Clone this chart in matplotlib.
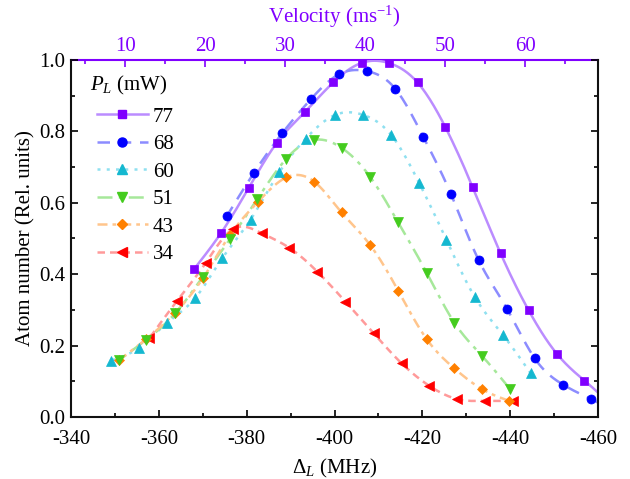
import numpy as np
import matplotlib
matplotlib.use("Agg")
import matplotlib.pyplot as plt
from matplotlib.lines import Line2D
from matplotlib.ticker import MultipleLocator, FormatStrFormatter

plt.rcParams["font.family"] = ["Liberation Serif", "DejaVu Serif"]
plt.rcParams["mathtext.fontset"] = "custom"
plt.rcParams["mathtext.rm"] = "Liberation Serif"
plt.rcParams["mathtext.it"] = "Liberation Serif:italic"
plt.rcParams["font.size"] = 15
plt.rcParams["axes.unicode_minus"] = False

# detuning (MHz) and atom number for each laser power
det_77 = [-368.0, -374.2, -380.5, -386.8, -393.3, -399.7, -406.2, -412.5,
          -418.9, -425.2, -431.5, -437.8, -444.2, -450.7, -456.9]
n_77 = [0.414, 0.516, 0.642, 0.767, 0.855, 0.937, 0.992, 0.991,
        0.937, 0.813, 0.643, 0.459, 0.299, 0.176, 0.102]

det_68 = [-375.5, -381.6, -388.1, -394.6, -401.0, -407.3, -413.8,
          -420.2, -426.5, -432.8, -439.3, -445.6, -452.0, -458.4]
n_68 = [0.563, 0.683, 0.795, 0.890, 0.960, 0.969, 0.920,
        0.785, 0.625, 0.440, 0.303, 0.164, 0.091, 0.050]

det_60 = [-349.0, -355.5, -361.9, -368.2, -374.4, -380.9, -387.4, -393.4,
          -400.1, -406.6, -412.9, -419.3, -425.5, -431.9, -438.4, -444.7]
n_60 = [0.158, 0.194, 0.264, 0.332, 0.444, 0.553, 0.685, 0.779,
        0.846, 0.846, 0.790, 0.655, 0.496, 0.337, 0.229, 0.122]

det_51 = [-351.0, -357.1, -363.7, -370.0, -376.2, -382.4, -389.0, -395.3,
          -401.6, -408.1, -414.5, -421.0, -427.3, -433.6, -440.0]
n_51 = [0.160, 0.216, 0.290, 0.392, 0.498, 0.610, 0.723, 0.776,
        0.754, 0.673, 0.545, 0.404, 0.264, 0.171, 0.078]

det_43 = [-351.0, -357.1, -363.7, -370.1, -376.2, -382.6, -389.0, -395.4,
          -401.6, -408.1, -414.5, -421.0, -427.3, -433.6, -439.8]
n_43 = [0.160, 0.218, 0.292, 0.390, 0.510, 0.603, 0.671, 0.659,
        0.573, 0.482, 0.354, 0.218, 0.136, 0.078, 0.045]

det_34 = [-357.8, -364.2, -370.7, -376.8, -383.4, -389.7, -396.1,
          -402.5, -408.9, -415.3, -421.5, -428.0, -434.3, -440.7]
n_34 = [0.220, 0.326, 0.432, 0.526, 0.515, 0.474, 0.407,
        0.323, 0.235, 0.150, 0.088, 0.050, 0.045, 0.045]

powers = ["77", "68", "60", "51", "43", "34"]
xticks = [-340, -360, -380, -400, -420, -440, -460]
vticks = [10, 20, 30, 40, 50, 60]


def smooth(x, y, lo=None, n=400):
    # natural cubic spline through the points (x given in decreasing order)
    x = np.asarray(x, float)[::-1]
    y = np.asarray(y, float)[::-1]
    h = np.diff(x)
    m = len(x)
    A = np.zeros((m, m))
    r = np.zeros(m)
    A[0, 0] = A[-1, -1] = 1
    for i in range(1, m - 1):
        A[i, i - 1] = h[i - 1]
        A[i, i] = 2 * (h[i - 1] + h[i])
        A[i, i + 1] = h[i]
        r[i] = 6 * ((y[i + 1] - y[i]) / h[i] - (y[i] - y[i - 1]) / h[i - 1])
    M = np.linalg.solve(A, r)
    xs = np.linspace(x[0] if lo is None else lo, x[-1], n)
    k = np.clip(np.searchsorted(x, xs) - 1, 0, m - 2)
    t0 = xs - x[k]
    t1 = x[k + 1] - xs
    hk = h[k]
    ys = (M[k] * t1**3 / (6 * hk) + M[k + 1] * t0**3 / (6 * hk)
          + (y[k] / hk - M[k] * hk / 6) * t1
          + (y[k + 1] / hk - M[k + 1] * hk / 6) * t0)
    return xs, ys


purple = "#8000ff"
styles = [
    dict(mc=purple, lc="#bb8cff", ls="-", m="s", ms=6.2),
    dict(mc="#0000ff", lc="#8c8cff", ls=(0, (5, 3.5)), m="o", ms=6.5),
    dict(mc="#14b8d0", lc="#8fe0f0", ls=(0, (1.2, 2.5)), m="^", ms=7.5),
    dict(mc="#44cc1e", lc="#a6e89a", ls=(0, (6, 2.5, 1.5, 2.5)), m="v", ms=7.5),
    dict(mc="#ff8000", lc="#ffc58c", ls=(0, (4, 2, 1.5, 2)), m="D", ms=5.3),
    dict(mc="#ff0000", lc="#ff9a9a", ls=(0, (3, 2)), m="<", ms=7.5),
]
series = [(det_77, n_77), (det_68, n_68), (det_60, n_60),
          (det_51, n_51), (det_43, n_43), (det_34, n_34)]

fig = plt.figure(figsize=(6.3, 4.79), dpi=100)
ax = fig.add_axes([71 / 630, 1 - 417 / 479, 527 / 630, 357 / 479])

handles = []
for i, ((d, v), st) in enumerate(zip(series, styles)):
    lo = -460 if i < 2 else None
    xs, ys = smooth(d, v, lo=lo)
    ax.plot(xs, ys, color=st["lc"], ls=st["ls"], lw=1.8, zorder=2)
    handles.append(Line2D([], [], color=st["lc"], ls=st["ls"], lw=1.8,
                          marker=st["m"], ms=st["ms"], mfc=st["mc"], mec=st["mc"]))
for (d, v), st in zip(series[::-1], styles[::-1]):
    ax.plot(d, v, ls="none", marker=st["m"], ms=st["ms"],
            mfc=st["mc"], mec=st["mc"], mew=0.5, zorder=3)

ax.set_xlim(-340, -460)
ax.set_ylim(0, 1.0)
ax.set_xticks(xticks)
ax.xaxis.set_minor_locator(MultipleLocator(10))
ax.yaxis.set_major_locator(MultipleLocator(0.2))
ax.yaxis.set_minor_locator(MultipleLocator(0.1))
ax.yaxis.set_major_formatter(FormatStrFormatter("%.1f"))
ax.tick_params(which="both", direction="in", top=False, right=True,
               width=1.2, labelsize=15)
ax.tick_params(axis="x", pad=9)
ax.tick_params(axis="y", pad=4)
ax.tick_params(which="major", length=5)
ax.tick_params(which="minor", length=3)
for s in ["left", "right", "bottom"]:
    ax.spines[s].set_linewidth(1.5)
    ax.spines[s].set_color("#111111")
ax.spines["top"].set_visible(False)

ax.set_xlabel(r"$\Delta_{L}$ (MHz)", fontsize=15, labelpad=6)
ax.set_ylabel("Atom number (Rel. units)", fontsize=15, labelpad=3)

# velocity scale on top
sec = ax.secondary_xaxis("top", functions=(lambda d: (-d - 334.15) / 1.822,
                                           lambda v: -334.15 - 1.822 * v))
sec.set_xticks(vticks)
sec.xaxis.set_minor_locator(MultipleLocator(5))
sec.tick_params(which="both", direction="in", colors=purple, width=1.2,
                labelsize=15, pad=3)
sec.tick_params(which="major", length=5)
sec.tick_params(which="minor", length=3)
sec.spines["top"].set_color(purple)
sec.spines["top"].set_linewidth(1.5)
sec.set_xlabel(r"Velocity (ms$^{-1}$)", color=purple, fontsize=15, labelpad=10)

# legend title drawn separately so the entries sit indented below it
ax.text(0.036, 0.93, r"$P_L$ (mW)", transform=ax.transAxes, fontsize=15,
        ha="left", va="center")
leg = ax.legend(handles, powers, loc="upper left",
                bbox_to_anchor=(0.049, 0.868), frameon=False, fontsize=15,
                handlelength=2.45, handletextpad=0.25,
                labelspacing=0.38, borderpad=0, borderaxespad=0,
                numpoints=1)

fig.savefig("out.png", dpi=100)
